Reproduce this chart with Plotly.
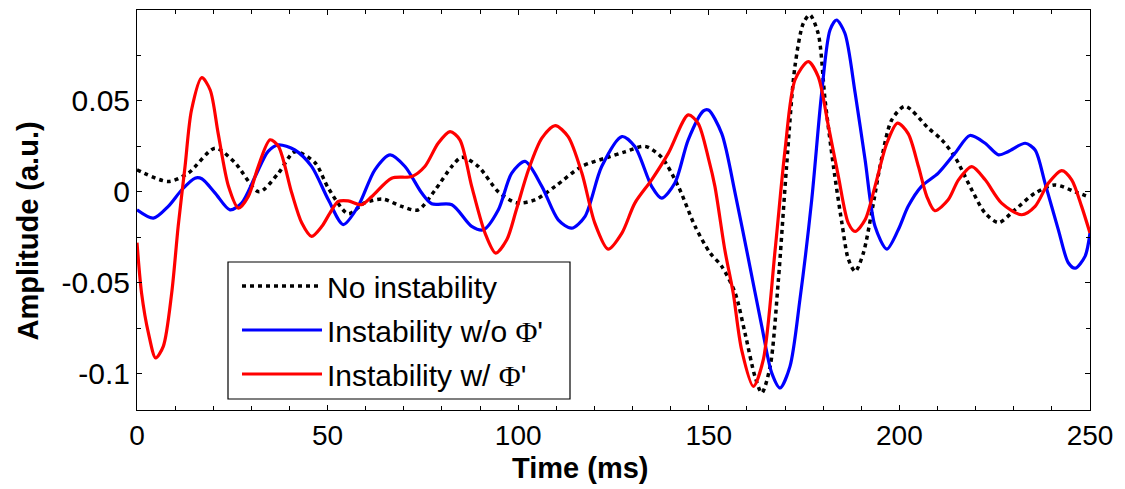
import plotly.graph_objects as go

# ---- data ----
t_none = [0, 8.2, 13.5, 20.5, 25.7, 32, 37, 41.4, 46.7, 50.2, 55.4, 59.8, 64.5, 69.4, 73.7,
          78.2, 82.6, 85.2, 89.5, 94.8, 99.5, 104.4, 109.7, 116.7, 123.6, 128, 133.3, 137.6,
          142, 146.4, 150.3, 153.4, 156.9, 159.5, 162.1, 163.9, 166.1, 168.2, 170.4, 172.6,
          174.8, 176.5, 178.7, 180.5, 182.7, 184.9, 186.6, 188.4, 190.5, 192.7, 195.4, 198,
          201.5, 207.6, 211.1, 214.6, 219, 222.5, 226, 230.3, 235.6, 240.8, 246.1, 250]
y_none = [0.0121, 0.0057, 0.0104, 0.024, 0.016, 0.0, 0.010, 0.022, 0.016, 0.002, -0.012,
          -0.006, -0.004, -0.008, -0.010, 0.001, 0.014, 0.019, 0.014, 0.0, -0.006, -0.0044,
          0.003, 0.014, 0.019, 0.022, 0.025, 0.019, 0.003, -0.019, -0.0335, -0.041, -0.0556,
          -0.0777, -0.1015, -0.1106, -0.096, -0.050, 0.014, 0.069, 0.0927, 0.0973, 0.087,
          0.0505, 0.014, -0.017, -0.037, -0.0438, -0.034, -0.0117, 0.019, 0.0396, 0.047,
          0.035, 0.0286, 0.019, 0.001, -0.0117, -0.0169, -0.0099, -0.0007, 0.0038, 0.0, -0.003]

t_wo = [0, 4.3, 8.2, 11.7, 15.2, 17, 20.5, 24.4, 27.5, 31, 34.4, 37.1, 41.4, 45.8, 50.2,
        54.1, 58, 62.4, 66.4, 70.3, 74.7, 77.3, 82.6, 87.8, 90.9, 94.8, 98.3, 101.8, 106.2,
        110.5, 114, 117.5, 121.9, 127.2, 130.6, 135, 137.6, 141.1, 144.6, 148.6, 149.9,
        153.4, 156.9, 160.4, 163.9, 166.5, 168.7, 171.3, 173.9, 177, 179.6, 181.8, 183.5,
        185.7, 188.4, 191, 193.6, 196.7, 199.7, 202.3, 205.8, 210.2, 214.6, 218.5, 222.5,
        226, 228.6, 233, 235.6, 238.2, 241.7, 244.3, 246.1, 248.7, 250]
y_wo = [-0.0099, -0.0145, -0.008, 0.001, 0.0075, 0.0072, -0.0007, -0.0099, -0.006, 0.0084,
        0.0222, 0.0258, 0.023, 0.014, -0.0044, -0.018, -0.008, 0.0121, 0.0203, 0.0139,
        -0.0007, -0.0066, -0.0071, -0.019, -0.0209, -0.0099, 0.0103, 0.0167, 0.003, -0.0154,
        -0.020, -0.0136, 0.0139, 0.0304, 0.0249, 0.003, -0.0035, 0.0048, 0.0286, 0.0445,
        0.045, 0.032, -0.0007, -0.037, -0.074, -0.0996, -0.1079, -0.096, -0.0593, -0.0044,
        0.0542, 0.089, 0.0945, 0.0872, 0.0542, 0.0176, -0.019, -0.0315, -0.0209, -0.008,
        0.003, 0.0103, 0.0213, 0.031, 0.0267, 0.0203, 0.0222, 0.0267, 0.023, 0.0048,
        -0.0209, -0.039, -0.042, -0.0355, -0.0227]

t_w = [0, 1.2, 3, 4.9, 6.9, 9.1, 10.8, 12.6, 14.3, 17, 19.2, 21.3, 24, 26.6, 29.2, 31.8,
       34.9, 37.1, 40.6, 43.2, 45.8, 48.5, 50.6, 52.8, 55.4, 58.9, 61.6, 66.8, 72.1, 75.5,
       79, 82.1, 84.7, 87.8, 91.3, 94.1, 97, 99.5, 102.7, 106.2, 109.7, 113.1, 116.7, 120.1,
       123.6, 127.2, 130.6, 135, 139.4, 144.6, 147.2, 150, 151.6, 154.2, 156.4, 158.6, 161.7,
       164.3, 167.4, 170, 172.6, 176.1, 178.7, 181.4, 184, 186.6, 188.4, 191, 193.6, 196.7,
       199.5, 202.3, 205, 207.2, 209.3, 212.8, 215.5, 219, 222.5, 226.8, 232.1, 235.6,
       239.1, 242.6, 245.2, 247.8, 250]
y_w = [-0.028, -0.0557, -0.0777, -0.0914, -0.085, -0.0557, -0.019, 0.0139, 0.045, 0.0628,
       0.056, 0.032, 0.003, -0.009, -0.0026, 0.0139, 0.0286, 0.025, -0.0007, -0.017, -0.0245,
       -0.019, -0.0117, -0.0053, -0.005, -0.0071, -0.0026, 0.0075, 0.0084, 0.0139, 0.0267,
       0.0331, 0.0286, 0.003, -0.0227, -0.0337, -0.0264, -0.0100, 0.0121, 0.0295, 0.0364,
       0.0304, 0.0103, -0.0172, -0.0315, -0.0227, -0.0062, 0.0066, 0.0213, 0.0423, 0.0377,
       0.0176, 0.003, -0.0319, -0.0557, -0.0868, -0.107, -0.0923, -0.0319, 0.023, 0.0615,
       0.0716, 0.0634, 0.0359, 0.0084, -0.0172, -0.0218, -0.0154, 0.003, 0.0267, 0.0378,
       0.032, 0.0139, -0.0026, -0.0104, -0.0044, 0.0066, 0.0139, 0.0066, -0.0062, -0.0126,
       -0.008, 0.0048, 0.0117, 0.0066, -0.008, -0.0227]

phi = "<span style=\"font-family:'Liberation Serif'\">\u03a6</span>'"
names = ["No instability", "Instability w/o " + phi, "Instability w/ " + phi]

x_ticks = [0, 50, 100, 150, 200, 250]
y_ticks = [-0.1, -0.05, 0, 0.05]
y_ticklabels = ["-0.1", "-0.05", "0", "0.05"]

# plot area on screen: x 137..1090, y 10..410 (page body adds 8px offset)
PL, PR, PT, PB = 137, 1090, 10, 410
W, H = PR - PL, PB - PT


def px(x):
    return (x - PL) / W


def py(y):
    return (PB - y) / H


fig = go.Figure()
fig.add_trace(go.Scatter(x=t_none, y=y_none, mode="lines", name=names[0], legendgroup="a",
                         line=dict(color="black", width=3.5, dash="4px,4px", shape="spline", smoothing=0.8)))
fig.add_trace(go.Scatter(x=t_wo, y=y_wo, mode="lines", name=names[1], legendgroup="b",
                         line=dict(color="#0000ff", width=3.2, shape="spline", smoothing=0.8)))
fig.add_trace(go.Scatter(x=t_w, y=y_w, mode="lines", name=names[2], legendgroup="c",
                         line=dict(color="#ff0000", width=3.2, shape="spline", smoothing=0.8)))

fig.update_layout(
    width=1117, height=481,
    margin=dict(l=129, r=35, t=2, b=79),
    paper_bgcolor="white", plot_bgcolor="white",
    font=dict(family="Liberation Sans, Arial", size=28, color="black"),
    legend=dict(x=px(237), y=py(260), xanchor="left", yanchor="top",
                borderwidth=0, bgcolor="rgba(0,0,0,0)",
                font=dict(size=30), itemwidth=80, tracegroupgap=2),
    showlegend=True,
    shapes=[dict(type="rect", xref="paper", yref="paper", x0=px(228), x1=px(570),
                 y0=py(399), y1=py(262), line=dict(color="black", width=1.2),
                 fillcolor="white", layer="above")],
    annotations=[
        dict(text="<b>Time (ms)</b>", xref="paper", yref="paper", x=px(580), y=py(468),
             xanchor="center", yanchor="middle", showarrow=False, font=dict(size=29)),
        dict(text="<b>Amplitude (a.u.)</b>", xref="paper", yref="paper", x=px(27.5), y=py(231),
             xanchor="center", yanchor="middle", textangle=-90, showarrow=False,
             font=dict(size=29)),
    ],
)
fig.update_xaxes(range=[0, 250], tickvals=x_ticks, ticks="inside", ticklen=5, tickcolor="black",
                 tickfont=dict(size=28),
                 minor=dict(dtick=10, ticks="inside", ticklen=4, tickcolor="black"),
                 showline=True, linecolor="black", linewidth=1, mirror="ticks",
                 showgrid=False, zeroline=False)
fig.update_yaxes(range=[-0.12, 0.1], tickvals=y_ticks, ticktext=y_ticklabels, ticks="inside",
                 ticklen=5, tickcolor="black", tickfont=dict(size=30),
                 minor=dict(dtick=0.025, tick0=0, ticks="inside", ticklen=4, tickcolor="black"),
                 showline=True, linecolor="black", linewidth=1, mirror="ticks",
                 showgrid=False, zeroline=False)

fig.write_html("out.html")
